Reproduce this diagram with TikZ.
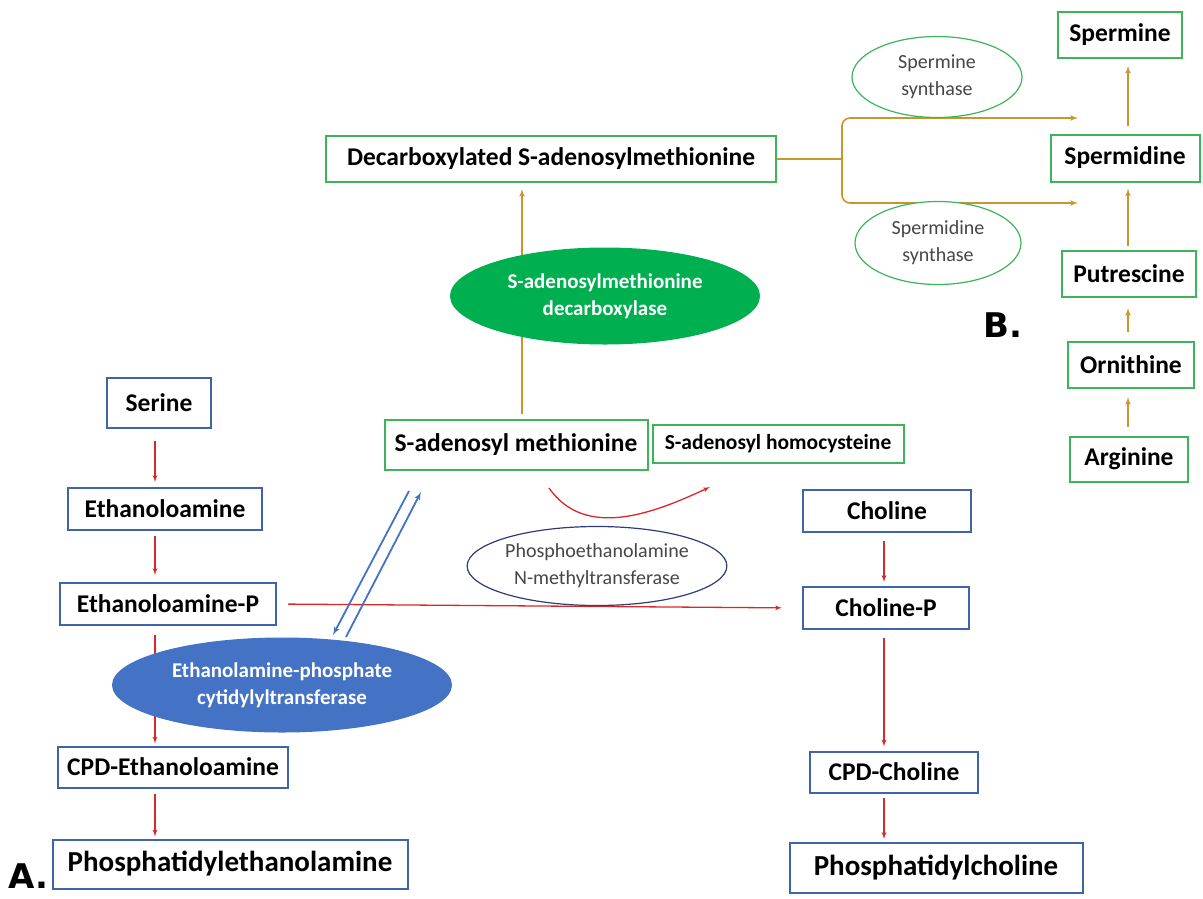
\documentclass[tikz,border=0pt]{standalone}
\usepackage{fontspec}
\setmainfont{Carlito}
\newfontfamily\panelfont{DejaVu Sans}
\usepackage{tikz}
\usetikzlibrary{shapes.geometric}
\usetikzlibrary{arrows}
\usepackage{color}
\definecolor{boxblue}{RGB}{64,100,170}
\definecolor{boxgreen}{RGB}{62,180,90}
\definecolor{enzblue}{RGB}{68,114,196}
\definecolor{enzgreen}{RGB}{0,176,80}
\definecolor{arrred}{RGB}{218,40,40}
\definecolor{arrgold}{RGB}{201,150,45}
\definecolor{enznavy}{RGB}{47,60,120}
\definecolor{txtgray}{RGB}{70,70,70}

\begin{document}
\begin{tikzpicture}[x=1pt,y=1pt,
		bbox/.style={draw=boxblue,line width=2pt,inner xsep=8pt,inner ysep=0pt,minimum height=42pt,font=\fontsize{25.5}{30}\selectfont\bfseries},
		gbox/.style={bbox,draw=boxgreen},
		big/.style={font=\fontsize{29}{34}\selectfont\bfseries},
		enzf/.style={ellipse,inner sep=0pt,align=center,text=white,font=\fontsize{21}{27}\selectfont\bfseries},
		enzo/.style={ellipse,draw,line width=1.2pt,fill=white,inner sep=0pt,align=center,text=txtgray,font=\fontsize{20}{27}\selectfont},
		ra/.style={->,arrred,line width=1.3pt},
		ga/.style={->,arrgold,line width=1.6pt},
		gl/.style={arrgold,line width=1.6pt},
		ba/.style={->,enzblue,line width=1.8pt},
		panel/.style={anchor=base west,inner sep=0pt,font=\panelfont\fontsize{34}{34}\bfseries\selectfont},
		>=latex']
	\useasboundingbox (0,0) rectangle (1203,-898);
	%% define boxes (A.)
	\node[bbox,minimum width=104pt,minimum height=50pt] (serine) at (159,-403) {Serine};
	\node[bbox,minimum width=194pt] (etha) at (165,-509) {Ethanoloamine};
	\node[bbox,minimum width=216pt] (ethap) at (168,-604) {Ethanoloamine-P};
	\node[bbox,minimum width=230pt,minimum height=41pt] (cpde) at (173,-767) {CPD-Ethanoloamine};
	\node[bbox,big,minimum width=355pt,minimum height=49pt] (pe) at (230,-864) {Phosphatidylethanolamine};
	\node[bbox,minimum width=168pt] (choline) at (887,-511) {Choline};
	\node[bbox,minimum width=166pt] (cholp) at (886,-608) {Choline-P};
	\node[bbox,minimum width=168pt,minimum height=41pt] (cpdc) at (894,-772) {CPD-Choline};
	\node[bbox,big,minimum width=293pt,minimum height=50pt] (pc) at (936,-868) {Phosphatidylcholine};
	\node[gbox,minimum width=263pt,minimum height=50pt] (sam) at (516,-445) {S-adenosyl methionine};
	\node[gbox,minimum width=251pt,minimum height=38pt,font=\fontsize{21.5}{26}\selectfont\bfseries] (sah) at (778,-444) {S-adenosyl homocysteine};
	\node[gbox,minimum width=450pt,minimum height=46pt] (decarb) at (551,-159) {Decarboxylated S-adenosylmethionine};
	%% define boxes (B.)
	\node[gbox,minimum width=124pt,minimum height=46pt] (spermine) at (1120,-35) {Spermine};
	\node[gbox,minimum width=149pt,minimum height=47pt] (spermidine) at (1125,-158) {Spermidine};
	\node[gbox,minimum width=134pt,minimum height=46pt] (putrescine) at (1129,-274) {Putrescine};
	\node[gbox,minimum width=126pt,minimum height=46pt] (ornithine) at (1131,-365) {Ornithine};
	\node[gbox,minimum width=118pt,minimum height=45pt] (arginine) at (1129,-459) {Arginine};
	%% define columns and free ends
	\coordinate (lcol) at (155,0);
	\coordinate (rcol) at (884,0);
	\coordinate (bcol) at (1128,0);
	\coordinate (ocol) at (522,0);
	\coordinate (fork) at (842,-159);
	\coordinate (spmtip) at (1078,-118);
	\coordinate (spdtip) at (1078,-203);
	\coordinate (samfrom) at (549,-488);
	\coordinate (sahto) at (710,-487);
	\coordinate (bt1) at (409,-491);
	\coordinate (bb1) at (333,-635);
	\coordinate (bb2) at (346,-637);
	\coordinate (bt2) at (421,-492);
	%% define arrows
	\draw[ra,shorten <=12pt,shorten >=5pt] (serine.south -| lcol) -- (etha.north -| lcol);
	\draw[ra,shorten <=5pt,shorten >=7pt] (etha.south -| lcol) -- (ethap.north -| lcol);
	\draw[ra,shorten <=9pt,shorten >=2pt] (ethap.south -| lcol) -- (cpde.north -| lcol);
	\draw[ra,shorten <=5pt,shorten >=2pt] (cpde.south -| lcol) -- (pe.north -| lcol);
	\draw[ra,shorten <=8pt,shorten >=4pt] (choline.south -| rcol) -- (cholp.north -| rcol);
	\draw[ra,shorten <=8pt,shorten >=4pt] (cholp.south -| rcol) -- (cpdc.north -| rcol);
	\draw[ra,shorten <=4pt,shorten >=3pt] (cpdc.south -| rcol) -- (pc.north -| rcol);
	\draw[ra,shorten <=11pt,shorten >=20pt] (ethap.east) -- (cholp.west);
	\draw[ra] (samfrom) to[out=-55,in=205] (sahto);
	\draw[ba] (bt1) -- (bb1);
	\draw[ba] (bb2) -- (bt2);
	\draw[ga,shorten <=5pt,shorten >=6pt] (sam.north -| ocol) -- (decarb.south -| ocol);
	\draw[gl] (decarb.east |- fork) -- (fork);
	\draw[ga,rounded corners=8pt] (fork) |- (spmtip);
	\draw[ga,rounded corners=8pt] (fork) |- (spdtip);
	\draw[ga,shorten <=9pt,shorten >=8pt] (arginine.north -| bcol) -- (ornithine.south -| bcol);
	\draw[ga,shorten <=9pt,shorten >=10pt] (ornithine.north -| bcol) -- (putrescine.south -| bcol);
	\draw[ga,shorten <=4pt,shorten >=6pt] (putrescine.north -| bcol) -- (spermidine.south -| bcol);
	\draw[ga,shorten <=8pt,shorten >=7pt] (spermidine.north -| bcol) -- (spermine.south -| bcol);
	%% define enzymes
	\node[enzf,fill=enzblue,minimum width=340pt,minimum height=95pt] (ect) at (282,-685) {Ethanolamine-phosphate\\cytidylyltransferase};
	\node[enzf,fill=enzgreen,minimum width=310pt,minimum height=97pt] (samdc) at (605,-296) {S-adenosylmethionine\\decarboxylase};
	\node[enzo,draw=enznavy,minimum width=242pt,minimum height=79pt] (pemt) at (597,-566) {Phosphoethanolamine\\N-methyltransferase};
	\node[enzo,draw=boxgreen,minimum width=170pt,minimum height=81pt] (spms) at (937,-77) {Spermine\\synthase};
	\node[enzo,draw=boxgreen,minimum width=166pt,minimum height=83pt] (spds) at (938,-243) {Spermidine\\synthase};
	%% panel labels
	\node[panel] (lbla) at (8,-888) {A.};
	\node[panel] (lblb) at (983,-337) {B.};
\end{tikzpicture}
\end{document}
